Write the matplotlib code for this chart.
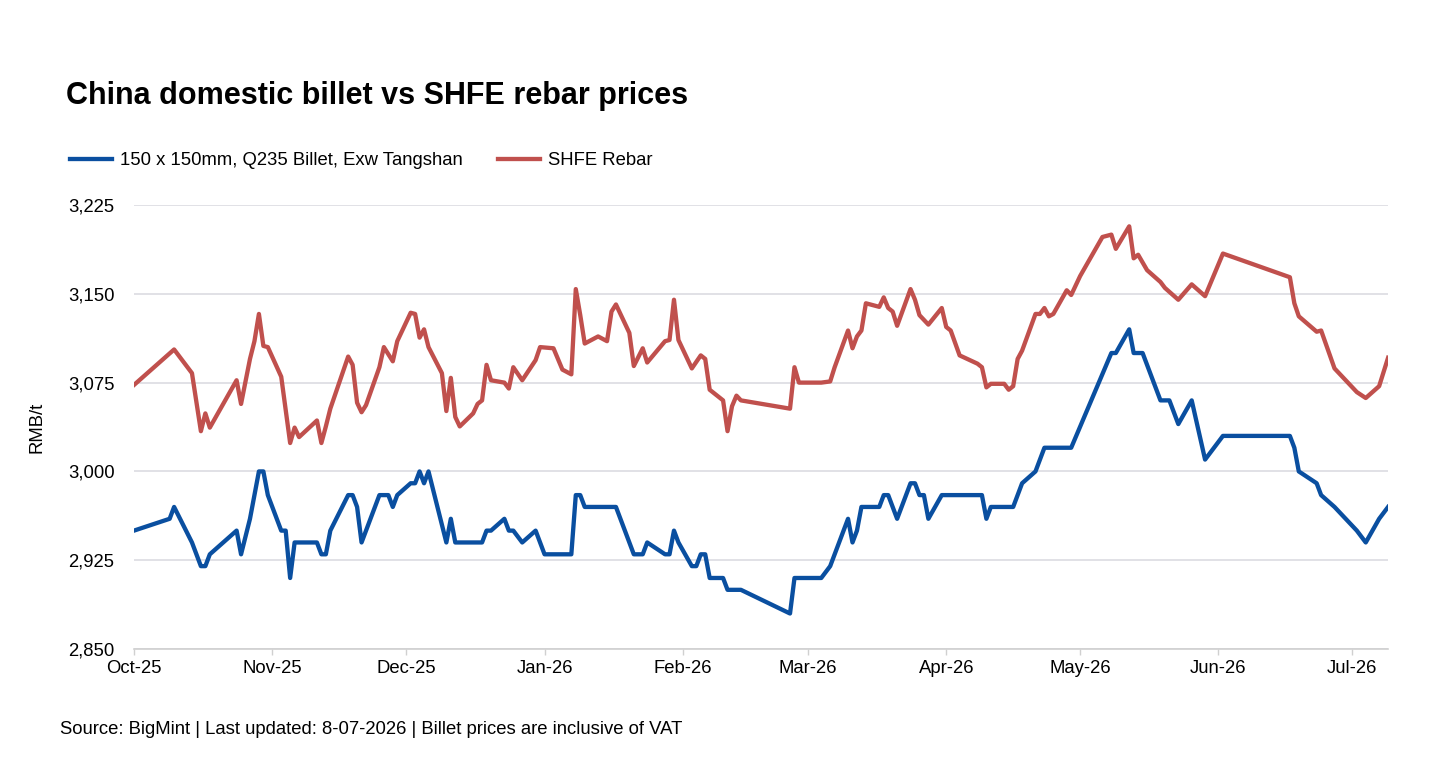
import pandas as pd
import matplotlib.pyplot as plt
import matplotlib.dates as mdates
from matplotlib.ticker import FuncFormatter

plt.rcParams['font.family'] = ['Liberation Sans', 'DejaVu Sans']

# SHFE rebar (RMB/t), vertices
rebar_dates = [
    "2025-10-01", "2025-10-10", "2025-10-14", "2025-10-16", "2025-10-17", "2025-10-18",
    "2025-10-24", "2025-10-25", "2025-10-27", "2025-10-28", "2025-10-29", "2025-10-30",
    "2025-10-31", "2025-11-03", "2025-11-05", "2025-11-06", "2025-11-07", "2025-11-11",
    "2025-11-12", "2025-11-13", "2025-11-14", "2025-11-18", "2025-11-19", "2025-11-20",
    "2025-11-21", "2025-11-22", "2025-11-25", "2025-11-26", "2025-11-28", "2025-11-29",
    "2025-12-02", "2025-12-03", "2025-12-04", "2025-12-05", "2025-12-06", "2025-12-09",
    "2025-12-10", "2025-12-11", "2025-12-12", "2025-12-13", "2025-12-16", "2025-12-17",
    "2025-12-18", "2025-12-19", "2025-12-20", "2025-12-23", "2025-12-24", "2025-12-25",
    "2025-12-27", "2025-12-30", "2025-12-31", "2026-01-03", "2026-01-05", "2026-01-07",
    "2026-01-08", "2026-01-09", "2026-01-10", "2026-01-13", "2026-01-15", "2026-01-16",
    "2026-01-17", "2026-01-20", "2026-01-21", "2026-01-23", "2026-01-24", "2026-01-28",
    "2026-01-29", "2026-01-30", "2026-01-31", "2026-02-03", "2026-02-05", "2026-02-06",
    "2026-02-07", "2026-02-10", "2026-02-11", "2026-02-12", "2026-02-13", "2026-02-14",
    "2026-02-25", "2026-02-26", "2026-02-27", "2026-03-04", "2026-03-06", "2026-03-07",
    "2026-03-10", "2026-03-11", "2026-03-12", "2026-03-13", "2026-03-14", "2026-03-17",
    "2026-03-18", "2026-03-19", "2026-03-20", "2026-03-21", "2026-03-24", "2026-03-25",
    "2026-03-26", "2026-03-28", "2026-03-31", "2026-04-01", "2026-04-02", "2026-04-04",
    "2026-04-08", "2026-04-09", "2026-04-10", "2026-04-11", "2026-04-14", "2026-04-15",
    "2026-04-16", "2026-04-17", "2026-04-18", "2026-04-21", "2026-04-22", "2026-04-23",
    "2026-04-24", "2026-04-25", "2026-04-28", "2026-04-29", "2026-05-01", "2026-05-06",
    "2026-05-08", "2026-05-09", "2026-05-12", "2026-05-13", "2026-05-14", "2026-05-16",
    "2026-05-19", "2026-05-20", "2026-05-23", "2026-05-26", "2026-05-29", "2026-06-02",
    "2026-06-17", "2026-06-18", "2026-06-19", "2026-06-23", "2026-06-24", "2026-06-27",
    "2026-07-02", "2026-07-04", "2026-07-07", "2026-07-09",
]
rebar_values = [
    3073, 3103, 3083, 3034, 3049, 3037,
    3077, 3057, 3095, 3110, 3133, 3106,
    3105, 3080, 3024, 3037, 3029, 3043,
    3024, 3038, 3053, 3097, 3090, 3058,
    3050, 3056, 3088, 3105, 3093, 3110,
    3134, 3133, 3113, 3120, 3105, 3083,
    3051, 3079, 3046, 3038, 3049, 3057,
    3060, 3090, 3077, 3075, 3070, 3088,
    3077, 3094, 3105, 3104, 3086, 3082,
    3154, 3132, 3108, 3114, 3110, 3135,
    3141, 3117, 3089, 3104, 3092, 3110,
    3111, 3145, 3111, 3087, 3098, 3095,
    3069, 3060, 3034, 3055, 3064, 3060,
    3053, 3088, 3075, 3075, 3076, 3088,
    3119, 3104, 3114, 3119, 3142, 3139,
    3147, 3138, 3135, 3123, 3154, 3145,
    3132, 3124, 3138, 3122, 3119, 3098,
    3091, 3088, 3071, 3074, 3074, 3069,
    3072, 3095, 3102, 3133, 3133, 3138,
    3131, 3133, 3153, 3149, 3165, 3198,
    3200, 3188, 3207, 3180, 3183, 3170,
    3160, 3155, 3145, 3158, 3148, 3184,
    3164, 3142, 3131, 3118, 3119, 3087,
    3067, 3062, 3072, 3096,
]

# 150 x 150mm Q235 billet, exw Tangshan (RMB/t)
billet_dates = [
    "2025-10-01", "2025-10-09", "2025-10-10", "2025-10-14", "2025-10-16", "2025-10-17",
    "2025-10-18", "2025-10-24", "2025-10-25", "2025-10-27", "2025-10-28", "2025-10-29",
    "2025-10-30", "2025-10-31", "2025-11-03", "2025-11-04", "2025-11-05", "2025-11-06",
    "2025-11-11", "2025-11-12", "2025-11-13", "2025-11-14", "2025-11-18", "2025-11-19",
    "2025-11-20", "2025-11-21", "2025-11-25", "2025-11-27", "2025-11-28", "2025-11-29",
    "2025-12-02", "2025-12-03", "2025-12-04", "2025-12-05", "2025-12-06", "2025-12-08",
    "2025-12-10", "2025-12-11", "2025-12-12", "2025-12-18", "2025-12-19", "2025-12-20",
    "2025-12-23", "2025-12-24", "2025-12-25", "2025-12-27", "2025-12-30", "2026-01-01",
    "2026-01-07", "2026-01-08", "2026-01-09", "2026-01-10", "2026-01-17", "2026-01-19",
    "2026-01-21", "2026-01-23", "2026-01-24", "2026-01-28", "2026-01-29", "2026-01-30",
    "2026-01-31", "2026-02-03", "2026-02-04", "2026-02-05", "2026-02-06", "2026-02-07",
    "2026-02-10", "2026-02-11", "2026-02-14", "2026-02-25", "2026-02-26", "2026-03-04",
    "2026-03-06", "2026-03-10", "2026-03-11", "2026-03-12", "2026-03-13", "2026-03-17",
    "2026-03-18", "2026-03-19", "2026-03-21", "2026-03-24", "2026-03-25", "2026-03-26",
    "2026-03-27", "2026-03-28", "2026-03-31", "2026-04-09", "2026-04-10", "2026-04-11",
    "2026-04-16", "2026-04-18", "2026-04-21", "2026-04-23", "2026-04-29", "2026-05-08",
    "2026-05-09", "2026-05-12", "2026-05-13", "2026-05-15", "2026-05-19", "2026-05-21",
    "2026-05-23", "2026-05-26", "2026-05-29", "2026-06-02", "2026-06-17", "2026-06-18",
    "2026-06-19", "2026-06-23", "2026-06-24", "2026-06-27", "2026-07-02", "2026-07-04",
    "2026-07-07", "2026-07-09",
]
billet_values = [
    2950, 2960, 2970, 2940, 2920, 2920,
    2930, 2950, 2930, 2960, 2980, 3000,
    3000, 2980, 2950, 2950, 2910, 2940,
    2940, 2930, 2930, 2950, 2980, 2980,
    2970, 2940, 2980, 2980, 2970, 2980,
    2990, 2990, 3000, 2990, 3000, 2970,
    2940, 2960, 2940, 2940, 2950, 2950,
    2960, 2950, 2950, 2940, 2950, 2930,
    2930, 2980, 2980, 2970, 2970, 2950,
    2930, 2930, 2940, 2930, 2930, 2950,
    2940, 2920, 2920, 2930, 2930, 2910,
    2910, 2900, 2900, 2880, 2910, 2910,
    2920, 2960, 2940, 2950, 2970, 2970,
    2980, 2980, 2960, 2990, 2990, 2980,
    2980, 2960, 2980, 2980, 2960, 2970,
    2970, 2990, 3000, 3020, 3020, 3100,
    3100, 3120, 3100, 3100, 3060, 3060,
    3040, 3060, 3010, 3030, 3030, 3020,
    3000, 2990, 2980, 2970, 2950, 2940,
    2960, 2970,
]

billet_label = "150 x 150mm, Q235 Billet, Exw Tangshan"
rebar_label = "SHFE Rebar"
y_ticks = [2850, 2925, 3000, 3075, 3150, 3225]

fig = plt.figure(figsize=(14.31, 7.65), dpi=100)
ax = fig.add_axes([0.0936, 0.1516, 0.8764, 0.5804])

ax.plot(pd.to_datetime(billet_dates), billet_values, color="#0a4fa0", lw=3.1,
        label=billet_label, solid_joinstyle="round")
ax.plot(pd.to_datetime(rebar_dates), rebar_values, color="#c0504d", lw=3.1,
        label=rebar_label, solid_joinstyle="round")

ax.set_ylim(2850, 3225)
ax.set_yticks(y_ticks)
ax.yaxis.set_major_formatter(FuncFormatter(lambda v, p: f"{v:,.0f}"))
ax.set_xlim(pd.Timestamp("2025-10-01"), pd.Timestamp("2026-07-09"))
ax.xaxis.set_major_locator(mdates.MonthLocator())
ax.xaxis.set_major_formatter(mdates.DateFormatter("%b-%y"))

ax.grid(axis="y", color="#dcdce2", lw=1.2)
ax.set_axisbelow(True)
for s in ["top", "right", "left"]:
    ax.spines[s].set_visible(False)
ax.spines["bottom"].set_color("#d0d0d0")
ax.spines["bottom"].set_linewidth(1.2)
ax.tick_params(axis="y", length=0, pad=14, labelsize=13.3, colors="#000000")
ax.tick_params(axis="x", length=4, width=1, color="#d0d0d0", pad=4, labelsize=13.3)

ax.set_ylabel("RMB/t", fontsize=13.3, labelpad=16)

fig.text(0.046, 0.875, "China domestic billet vs SHFE rebar prices",
         fontsize=22, fontweight="bold", va="center", ha="left")
fig.text(0.042, 0.047, "Source: BigMint | Last updated: 8-07-2026 | Billet prices are inclusive of VAT",
         fontsize=13.3, va="center", ha="left")

ax.legend(loc="center left", bbox_to_anchor=(0.040, 0.790), bbox_transform=fig.transFigure,
          ncol=2, frameon=False, fontsize=13.3, handlelength=2.27, handletextpad=0.43,
          columnspacing=1.9, borderpad=0.2)

fig.savefig("out.png", dpi=100)
